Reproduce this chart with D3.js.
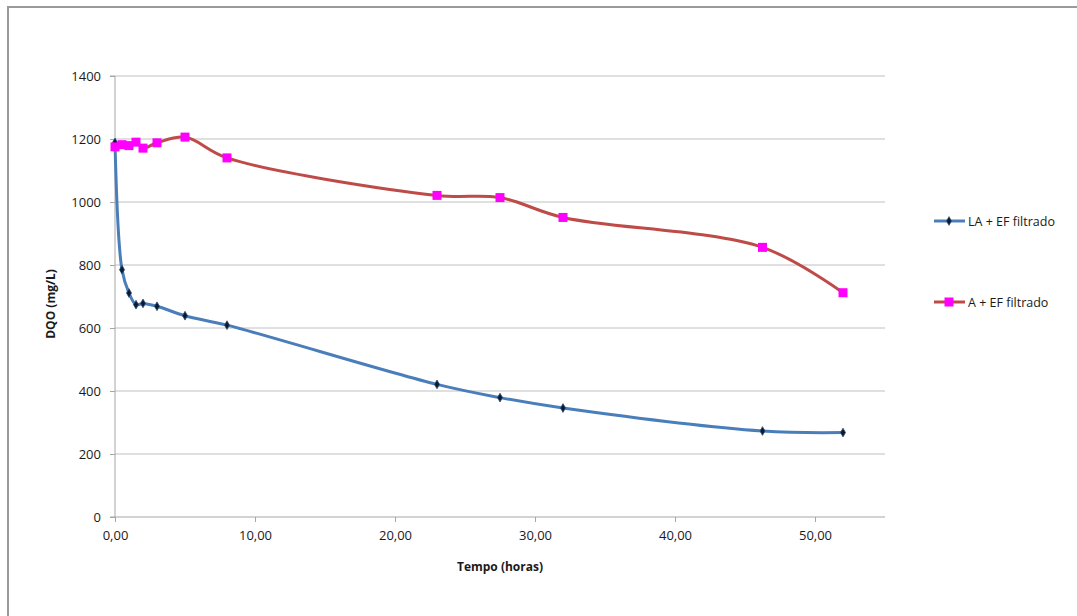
<!DOCTYPE html>
<html>
<head>
<meta charset="utf-8">
<script src="https://cdn.jsdelivr.net/npm/d3@7"></script>
<style>
  body { margin: 0; background: #fff; }
  svg { display: block; font-family: "Open Sans", sans-serif; }
</style>
</head>
<body>
<svg id="chart"></svg>
<script>
// data
let tempo = [0, 0.5, 1, 1.5, 2, 3, 5, 8, 23, 27.5, 32, 46.25, 52];
let laFiltrado = [1189, 785, 711, 674, 678, 669, 639, 609, 421, 379, 346, 273, 268];
let aFiltrado = [1175, 1182, 1179, 1190, 1171, 1188, 1206, 1140, 1021, 1014, 951, 856, 712];
let seriesNames = ["LA + EF filtrado", "A + EF filtrado"];
let xTicks = [0, 10, 20, 30, 40, 50];
let yTicks = [0, 200, 400, 600, 800, 1000, 1200, 1400];

let width = 1077;
let height = 616;
let plot = {left: 115, right: 885, top: 76, bottom: 517};

let blue = "#4a7ebb";
let red = "#be4b48";
let grid = "#c0c0c0";

let svg = d3.select("#chart").attr("width", width).attr("height", height);

// outer frame (only top & left edges are in view)
svg.append("rect")
    .attr("x", 8).attr("y", 7)
    .attr("width", 1200).attr("height", 800)
    .attr("fill", "none")
    .attr("stroke", "#9a9a9a")
    .attr("stroke-width", 2);

let xScale = d3.scaleLinear().domain([0, 55]).range([plot.left, plot.right]);
let yScale = d3.scaleLinear().domain([0, 1400]).range([plot.bottom, plot.top]);

// gridlines
svg.append("g")
    .selectAll("line")
    .data(yTicks.filter(d => d > 0))
    .enter()
    .append("line")
    .attr("x1", plot.left).attr("x2", plot.right)
    .attr("y1", d => yScale(d)).attr("y2", d => yScale(d))
    .attr("stroke", grid).attr("stroke-width", 1);

let fmt = d => d3.format(".2f")(d).replace(".", ",");

let xAxis = d3.axisBottom(xScale).tickValues(xTicks).tickFormat(fmt).tickSize(5).tickPadding(9);
let yAxis = d3.axisLeft(yScale).tickValues(yTicks).tickFormat(d3.format("d")).tickSize(5).tickPadding(9);

let gx = svg.append("g")
    .attr("transform", "translate(0," + plot.bottom + ")")
    .call(xAxis);
let gy = svg.append("g")
    .attr("transform", "translate(" + plot.left + ",0)")
    .call(yAxis);

[gx, gy].forEach(g => {
    g.select(".domain").attr("stroke", "#a6a6a6").attr("stroke-width", 1);
    g.selectAll(".tick line").attr("stroke", "#a6a6a6");
    g.selectAll(".tick text")
        .attr("fill", "#1a1a1a")
        .style("font-size", "13px")
        .style("font-family", "'Open Sans', sans-serif");
});
gy.select(".domain").attr("d", "M-5," + plot.bottom + "H0V" + plot.top + "H-5");
gx.select(".domain").attr("d", "M" + plot.left + ",0H" + plot.right);

// axis titles
svg.append("text")
    .attr("x", 500).attr("y", 571)
    .attr("text-anchor", "middle")
    .style("font-weight", "bold")
    .style("font-size", "12px")
    .attr("fill", "#1a1a1a")
    .text("Tempo (horas)");

svg.append("text")
    .attr("transform", "translate(55,304)rotate(-90)")
    .attr("text-anchor", "middle")
    .style("font-weight", "bold")
    .style("font-size", "12px")
    .attr("fill", "#1a1a1a")
    .text("DQO (mg/L)");

let line = d3.line()
    .x(d => xScale(d[0]))
    .y(d => yScale(d[1]))
    .curve(d3.curveCatmullRom.alpha(0.5));

let laPts = tempo.map((t, i) => [t, laFiltrado[i]]);
let aPts = tempo.map((t, i) => [t, aFiltrado[i]]);

svg.append("path")
    .datum(aPts)
    .attr("d", line)
    .attr("fill", "none")
    .attr("stroke", red)
    .attr("stroke-width", 3);

svg.append("path")
    .datum(laPts)
    .attr("d", line)
    .attr("fill", "none")
    .attr("stroke", blue)
    .attr("stroke-width", 3);

let diamond = d3.symbol().type(d3.symbolDiamond).size(22);

let drawDiamond = (g, x, y) => {
    g.append("path")
        .attr("d", diamond)
        .attr("transform", "translate(" + x + "," + y + ")")
        .attr("fill", "#0b1a2e")
        .attr("stroke", "#2c4f7c")
        .attr("stroke-width", 0.8);
};
let drawSquare = (g, x, y) => {
    g.append("rect")
        .attr("x", x - 4.5).attr("y", y - 4.5)
        .attr("width", 9).attr("height", 9)
        .attr("fill", "#ff00ff");
};

let markersLA = svg.append("g");
laPts.forEach(p => drawDiamond(markersLA, xScale(p[0]), yScale(p[1])));
let markersA = svg.append("g");
aPts.forEach(p => drawSquare(markersA, xScale(p[0]), yScale(p[1])));

// legend
let legend = svg.append("g");
let legendY = [221, 302];
[blue, red].forEach((c, i) => {
    legend.append("line")
        .attr("x1", 934).attr("x2", 965)
        .attr("y1", legendY[i]).attr("y2", legendY[i])
        .attr("stroke", c).attr("stroke-width", 3);
    if (i === 0) drawDiamond(legend, 949, legendY[i]);
    else drawSquare(legend, 949, legendY[i]);
    legend.append("text")
        .attr("x", 968).attr("y", legendY[i] + 5)
        .style("font-size", "12.5px")
        .attr("fill", "#1a1a1a")
        .text(seriesNames[i]);
});
</script>
</body>
</html>
